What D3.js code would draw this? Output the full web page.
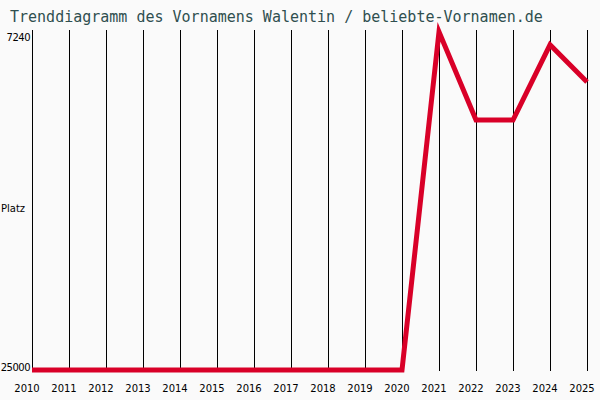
<!DOCTYPE html>
<html>
<head>
<meta charset="utf-8">
<script src="https://cdn.jsdelivr.net/npm/d3@7"></script>
<style>
  body { margin: 0; background: #fafafa; }
</style>
</head>
<body>
<script>
// data (rank, lower is better)
const years = [2010, 2011, 2012, 2013, 2014, 2015, 2016, 2017, 2018, 2019, 2020, 2021, 2022, 2023, 2024, 2025];
const ranks = [25000, 25000, 25000, 25000, 25000, 25000, 25000, 25000, 25000, 25000, 25000, 6800, 11550, 11550, 7500, 9500];
const yTicks = [7240, 25000];

const width = 600, height = 400;

const svg = d3.select("body").append("svg")
    .attr("width", width)
    .attr("height", height)
    .style("background", "#fafafa");

const x = d3.scaleLinear().domain([2010, 2025]).range([32, 587]);
const y = d3.scaleLinear().domain([7240, 25000]).range([40, 370]);

// title
svg.append("text")
    .attr("x", 10).attr("y", 22)
    .style("font-family", "DejaVu Sans Mono, monospace")
    .style("font-size", "15px")
    .style("fill", "#2f4f4f")
    .text("Trenddiagramm des Vornamens Walentin / beliebte-Vornamen.de");

// vertical grid lines per year
svg.selectAll("line.grid")
    .data(years)
    .join("line")
    .attr("class", "grid")
    .attr("x1", d => x(d)).attr("x2", d => x(d))
    .attr("y1", 30).attr("y2", 371)
    .attr("stroke", "#000")
    .attr("stroke-width", 1)
    .attr("shape-rendering", "crispEdges");

// year labels
svg.selectAll("text.year")
    .data(years)
    .join("text")
    .attr("class", "year")
    .attr("x", d => x(d) - 5)
    .attr("y", 392)
    .attr("text-anchor", "middle")
    .style("font-family", "DejaVu Sans, sans-serif")
    .style("font-size", "10px")
    .text(d => d);

// y tick labels
svg.selectAll("text.ytick")
    .data(yTicks)
    .join("text")
    .attr("class", "ytick")
    .attr("x", 30)
    .attr("y", d => y(d) + 1)
    .attr("text-anchor", "end")
    .style("font-family", "DejaVu Sans, sans-serif")
    .style("font-size", "10px")
    .style("letter-spacing", "-0.5px")
    .text(d => d);

svg.append("text")
    .attr("x", 1).attr("y", 212)
    .style("font-family", "DejaVu Sans, sans-serif")
    .style("font-size", "10px")
    .text("Platz");

// trend line
const line = d3.line()
    .x((d, i) => x(years[i]))
    .y(d => y(d));

svg.append("path")
    .datum(ranks)
    .attr("d", line)
    .attr("fill", "none")
    .attr("stroke", "#d90028")
    .attr("stroke-width", 5);
</script>
</body>
</html>
